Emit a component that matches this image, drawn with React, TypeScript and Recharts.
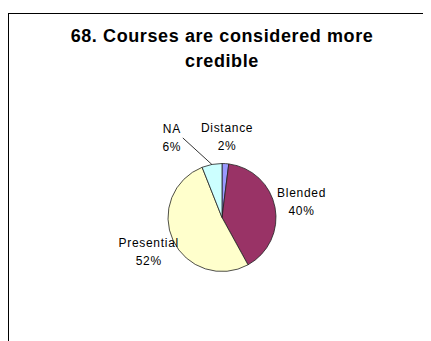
import { Cell, Pie, PieChart } from "recharts";

const categories = ["Distance", "Blended", "Presential", "NA"];
const shares = [2, 40, 52, 6];
const sliceColors = ["#9999FF", "#993366", "#FFFFCC", "#CCFFFF"];
const titleLines = ["68. Courses are considered more", "credible"];

const data = categories.map((name, i) => ({ name, value: shares[i] }));

const RAD = Math.PI / 180;
const FONT = "'Liberation Sans', Arial, sans-serif";

function SliceLabel(props: any) {
  const { cx, cy, midAngle, outerRadius, name, value } = props;
  const r = outerRadius + 27;
  let x = cx + r * Math.cos(-midAngle * RAD);
  const y = cy + r * Math.sin(-midAngle * RAD);
  // NA sits too close to Distance, so it is pushed left with a leader line
  const moved = name === "NA";
  if (moved) x -= 35;
  const ex = cx + outerRadius * Math.cos(-midAngle * RAD);
  const ey = cy + outerRadius * Math.sin(-midAngle * RAD);
  return (
    <g>
      {moved && <line x1={x + 11} y1={y} x2={ex} y2={ey} stroke="#000" strokeWidth={0.8} />}
      <text
        x={x}
        y={y - 9}
        textAnchor="middle"
        dominantBaseline="central"
        fontSize={12}
        letterSpacing={0.7}
        fontFamily={FONT}
        fill="#000"
      >
        {name}
      </text>
      <text
        x={x}
        y={y + 9}
        textAnchor="middle"
        dominantBaseline="central"
        fontSize={12}
        letterSpacing={0.7}
        fontFamily={FONT}
        fill="#000"
      >
        {`${value}%`}
      </text>
    </g>
  );
}

export default function App() {
  return (
    <div style={{ position: "relative", width: 423, height: 333, overflow: "hidden", fontFamily: FONT }}>
      <div
        style={{
          position: "absolute",
          left: 0,
          top: 5,
          width: 600,
          height: 600,
          border: "1px solid #000",
          boxSizing: "border-box",
        }}
      />
      <div
        style={{
          position: "absolute",
          left: 14,
          top: 15.5,
          width: 400,
          textAlign: "center",
          fontWeight: "bold",
          fontSize: 18,
          lineHeight: "25px",
          letterSpacing: 0.6,
          color: "#000",
        }}
      >
        {titleLines[0]}
        <br />
        {titleLines[1]}
      </div>
      <PieChart
        width={423}
        height={333}
        margin={{ top: 0, right: 0, bottom: 0, left: 0 }}
        style={{ position: "absolute", left: 0, top: 0 }}
      >
        <Pie
          data={data}
          dataKey="value"
          nameKey="name"
          cx={214}
          cy={209.5}
          outerRadius={54}
          startAngle={90}
          endAngle={-270}
          stroke="#222"
          strokeWidth={0.8}
          label={SliceLabel}
          labelLine={false}
          isAnimationActive={false}
        >
          {data.map((d, i) => (
            <Cell key={d.name} fill={sliceColors[i]} />
          ))}
        </Pie>
      </PieChart>
    </div>
  );
}
